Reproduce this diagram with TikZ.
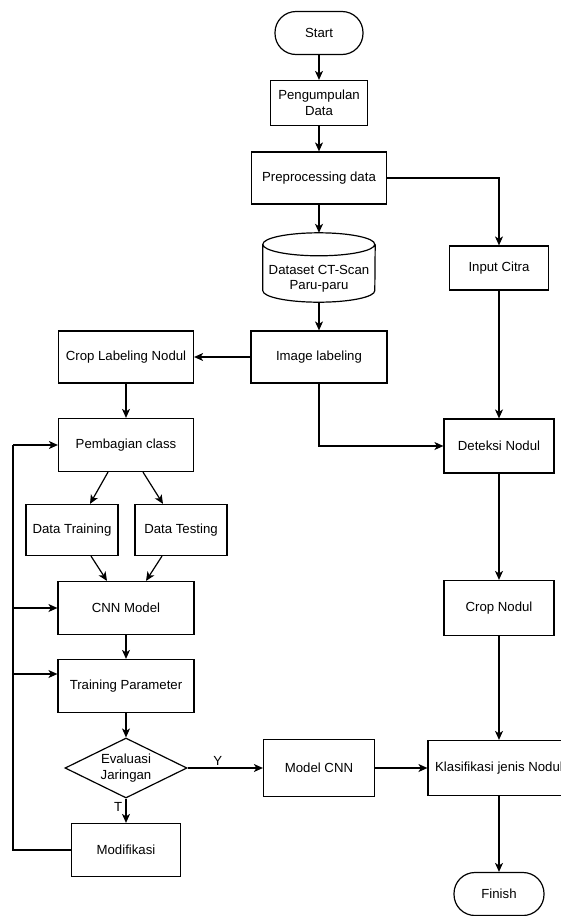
\documentclass[tikz,border=0pt]{standalone}
\usepackage{fontspec}
\setmainfont{Liberation Sans}
\usepackage{tikz}
\usetikzlibrary{positioning,shapes,arrows.meta}

\begin{document}
\begin{tikzpicture}[x=1pt,y=-1pt]
          %% DIAGRAM ALIR

          \tikzstyle{every edge}=[-,>={Stealth[length=9pt,width=8pt,inset=2.5pt]},line width=1.2pt,draw]
          \tikzstyle{every node}=[font=\fontsize{13.2}{15.5}\selectfont]
          \tikzstyle{garis}=[line width=1.2pt,>={Stealth[length=9pt,width=8pt,inset=2.5pt]}]
          \tikzstyle{proses}=[draw,line width=1.2pt,rectangle,align=center,inner sep=2pt]
          \tikzstyle{terminal}=[draw,line width=1.2pt,rectangle,rounded corners=21pt,minimum width=88pt,minimum height=43pt]
          \tikzstyle{basisdata}=[rectangle,align=center,inner sep=0pt,minimum width=112pt,minimum height=46pt]
          \tikzstyle{keputusan}=[draw,line width=1.2pt,diamond,aspect=2,align=center,inner sep=0pt,minimum width=122pt,minimum height=60pt]

          \clip (0,0) rectangle (561,916);

          % jalur tengah
          \node[terminal] (start) at (319,33) {Start};
          \node[proses,minimum width=97pt,minimum height=45pt] (kumpul) at (319,103) {Pengumpulan\\Data};
          \node[proses,minimum width=135pt,minimum height=52pt] (prepro) at (319,178) {Preprocessing data};
          \node[basisdata] (dataset) at (319,279) {Dataset CT-Scan\\Paru-paru};
          \node[proses,minimum width=136pt,minimum height=52pt] (label) at (319,357) {Image labeling};

          % tabung dataset
          \draw[garis] ([yshift=11.5pt]dataset.north west)
                arc[start angle=180,end angle=360,x radius=56pt,y radius=11.5pt]
                arc[start angle=0,end angle=180,x radius=56pt,y radius=11.5pt]
                -- ([yshift=11.5pt]dataset.south west)
                arc[start angle=180,end angle=360,x radius=56pt,y radius=11.5pt]
                -- ([yshift=11.5pt]dataset.north east);

          % jalur kiri (pelatihan)
          \node[proses,minimum width=135pt,minimum height=52pt] (croplabel) at (126,357) {Crop Labeling Nodul};
          \node[proses,minimum width=135pt,minimum height=53pt] (bagi) at (126,445) {Pembagian class};
          \node[proses,minimum width=92pt,minimum height=51pt] (latih) at (72,530) {Data Training};
          \node[proses,minimum width=92pt,minimum height=51pt] (uji) at (181,530) {Data Testing};
          \node[proses,minimum width=136pt,minimum height=53pt] (cnn) at (126,608) {CNN Model};
          \node[proses,minimum width=136pt,minimum height=53pt] (param) at (126,686) {Training Parameter};
          \node[keputusan] (eval) at (126,768) {Evaluasi\\Jaringan};
          \node[proses,minimum width=109pt,minimum height=53pt] (modif) at (126,850) {Modifikasi};
          \node[proses,minimum width=111pt,minimum height=57pt] (model) at (319,768) {Model CNN};

          % jalur kanan (pengujian)
          \node[proses,minimum width=99pt,minimum height=44pt] (input) at (499,268) {Input Citra};
          \node[proses,minimum width=110pt,minimum height=54pt] (deteksi) at (499,446) {Deteksi Nodul};
          \node[proses,minimum width=110pt,minimum height=55pt] (cropnod) at (499,608) {Crop Nodul};
          \node[proses,minimum width=142pt,minimum height=55pt] (klasifikasi) at (499,768) {Klasifikasi jenis Nodul};
          \node[terminal,minimum width=90pt] (finish) at (499,894) {Finish};

          % panah
          \path (start) edge[->] (kumpul)
                (kumpul) edge[->] (prepro)
                (prepro) edge[->] ([yshift=23pt]dataset.north)
                (dataset) edge[->] (label)
                (label) edge[->] (croplabel)
                (croplabel) edge[->] (bagi);
          \draw[garis,->] (prepro.east) -| (input.north);
          \draw[garis,->] (label.south) |- (deteksi.west);

          \path ([xshift=-18pt]bagi.south) edge[->] ([xshift=18pt]latih.north)
                ([xshift=17pt]bagi.south) edge[->] ([xshift=-18pt]uji.north)
                ([xshift=19pt]latih.south) edge[->] ([xshift=-19pt]cnn.north)
                ([xshift=-19pt]uji.south) edge[->] ([xshift=20pt]cnn.north)
                (cnn) edge[->] (param)
                (param) edge[->] (eval);

          \path (eval) edge[->] node[above,pos=0.4,inner sep=2pt] {Y} (model)
                (eval) edge[->] node[left,pos=0.35] {T} (modif)
                (model) edge[->] (klasifikasi);

          \path (input) edge[->] (deteksi)
                (deteksi) edge[->] (cropnod)
                (cropnod) edge[->] (klasifikasi)
                (klasifikasi) edge[->] (finish);

          % umpan balik modifikasi
          \coordinate (kiribawah) at (13,850);
          \coordinate (kiriatas) at (13,445);
          \coordinate (masukparam) at ([yshift=12pt]param.west);
          \draw[garis] (modif.west) -- (kiribawah) -- (kiriatas);
          \path (kiriatas) edge[->] (bagi.west)
                (kiriatas |- cnn.west) edge[->] (cnn.west)
                (kiriatas |- masukparam) edge[->] (masukparam);

\end{tikzpicture}
\end{document}
